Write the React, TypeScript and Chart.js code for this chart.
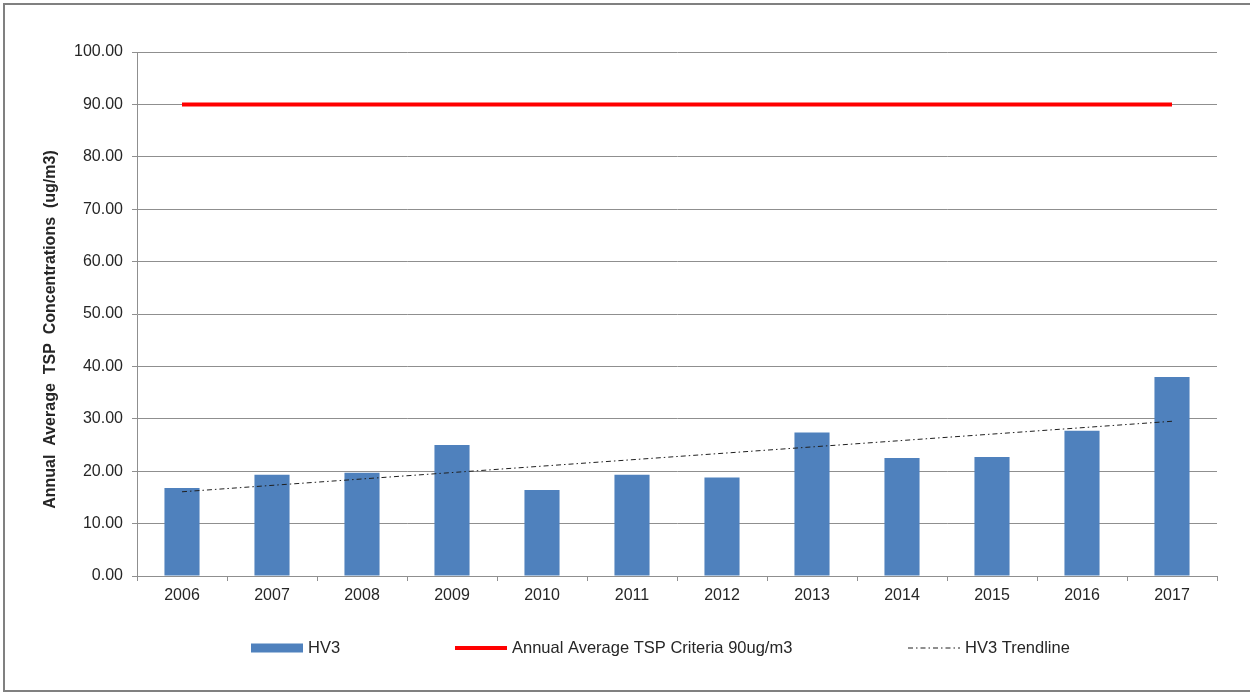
import React, { useEffect, useRef } from "react";
import { Chart, registerables } from "chart.js";

Chart.register(...registerables);

// Monitoring years and annual average TSP at HV3 (ug/m3)
const years = ["2006", "2007", "2008", "2009", "2010", "2011", "2012", "2013", "2014", "2015", "2016", "2017"];
const hv3Values = [16.8, 19.3, 19.7, 25.0, 16.4, 19.3, 18.8, 27.4, 22.5, 22.7, 27.7, 38.0];
const criteriaValue = 90;
const yMin = 0;
const yMax = 100;
const yStep = 10;

const seriesLabels = {
  bars: "HV3",
  criteria: `Annual Average TSP Criteria ${criteriaValue}ug/m3`,
  trend: "HV3 Trendline",
};
// Wide word gaps, and trailing blanks so the rotated title sits a little lower
const yTitle = "Annual  Average  TSP  Concentrations  (ug/m3)       ";

// Ordinary least-squares trend over the yearly HV3 values
function linearTrend(values: number[]): number[] {
  const n = values.length;
  const xs = values.map((_, i) => i);
  const mx = xs.reduce((a, b) => a + b, 0) / n;
  const my = values.reduce((a, b) => a + b, 0) / n;
  let sxy = 0;
  let sxx = 0;
  xs.forEach((x, i) => {
    sxy += (x - mx) * (values[i] - my);
    sxx += (x - mx) * (x - mx);
  });
  const slope = sxy / sxx;
  const intercept = my - slope * mx;
  return xs.map((x) => intercept + slope * x);
}

const FONT_FAMILY = "'Liberation Sans', Arial, Helvetica, sans-serif";
const TEXT_COLOR = "#262626";
const GRID_COLOR = "#8f8f8f";
const BAR_COLOR = "#4f81bd";
const CRITERIA_COLOR = "#ff0000";
const TREND_COLOR = "#1f1f1f";
const TREND_DASH = [5, 3, 1.5, 3];

// Horizontal starts of the legend entries, measured from the plot's left edge
const LEGEND_STARTS = [114, 318, 771];
const LEGEND_SWATCH = 52;
const LEGEND_GAP = 5;

const bottomLegend = {
  id: "bottomLegend",
  afterDraw(chart: any) {
    const { ctx, chartArea } = chart;
    const y = chartArea.bottom + 72;
    ctx.save();
    ctx.font = `16.5px ${FONT_FAMILY}`;
    ctx.textBaseline = "middle";
    ctx.textAlign = "left";
    chart.data.datasets.forEach((ds: any, i: number) => {
      const x = chartArea.left + LEGEND_STARTS[i];
      if (ds.type === "bar") {
        ctx.fillStyle = ds.backgroundColor;
        ctx.fillRect(x, y - 4.5, LEGEND_SWATCH, 9);
      } else {
        ctx.save();
        ctx.strokeStyle = ds.borderColor;
        ctx.lineWidth = ds.borderWidth;
        ctx.setLineDash(ds.borderDash || []);
        ctx.beginPath();
        ctx.moveTo(x, y);
        ctx.lineTo(x + LEGEND_SWATCH, y);
        ctx.stroke();
        ctx.restore();
      }
      ctx.fillStyle = TEXT_COLOR;
      ctx.fillText(ds.label, x + LEGEND_SWATCH + LEGEND_GAP, y);
    });
    ctx.restore();
  },
};

export default function App() {
  const canvasRef = useRef<HTMLCanvasElement | null>(null);

  useEffect(() => {
    document.body.style.margin = "0";
    const canvas = canvasRef.current;
    if (!canvas) return;

    const trend = linearTrend(hv3Values);

    const chart = new Chart(canvas, {
      type: "bar",
      data: {
        labels: years,
        datasets: [
          {
            type: "bar",
            label: seriesLabels.bars,
            data: hv3Values,
            backgroundColor: BAR_COLOR,
            borderWidth: 0,
            barPercentage: 0.39,
            categoryPercentage: 1,
            order: 3,
          },
          {
            type: "line",
            label: seriesLabels.criteria,
            data: years.map(() => criteriaValue),
            borderColor: CRITERIA_COLOR,
            backgroundColor: CRITERIA_COLOR,
            borderWidth: 4,
            pointRadius: 0,
            fill: false,
            order: 2,
          },
          {
            type: "line",
            label: seriesLabels.trend,
            data: trend,
            borderColor: TREND_COLOR,
            backgroundColor: TREND_COLOR,
            borderWidth: 1,
            borderDash: TREND_DASH,
            pointRadius: 0,
            fill: false,
            order: 1,
          },
        ] as any,
      },
      options: {
        responsive: false,
        animation: false,
        layout: { padding: { left: 0, right: 33, top: 52, bottom: 77 } },
        plugins: {
          legend: { display: false },
          tooltip: { enabled: false },
          title: { display: false },
        },
        scales: {
          x: {
            grid: {
              display: true,
              drawOnChartArea: false,
              drawTicks: true,
              tickLength: 5,
              color: GRID_COLOR,
              offset: true,
            },
            border: { display: true, color: GRID_COLOR, width: 1 },
            ticks: {
              color: TEXT_COLOR,
              font: { family: FONT_FAMILY, size: 16 },
              padding: 5,
              maxRotation: 0,
              autoSkip: false,
            },
            afterFit: (scale: any) => {
              scale.height = 40;
            },
          },
          y: {
            min: yMin,
            max: yMax,
            ticks: {
              stepSize: yStep,
              color: TEXT_COLOR,
              font: { family: FONT_FAMILY, size: 16 },
              padding: 9,
              callback: (v: any) => Number(v).toFixed(2),
            },
            grid: {
              color: GRID_COLOR,
              tickLength: 5,
              drawTicks: true,
            },
            border: { display: true, color: GRID_COLOR, width: 1 },
            title: {
              display: true,
              text: yTitle,
              color: TEXT_COLOR,
              font: { family: FONT_FAMILY, size: 16, weight: "bold" },
              padding: { top: 41, bottom: 0 },
            },
            afterFit: (scale: any) => {
              scale.width = 137;
            },
          },
        },
      },
      plugins: [bottomLegend],
    });

    return () => {
      chart.destroy();
    };
  }, []);

  return (
    <div style={{ position: "relative", width: 1250, height: 693, overflow: "hidden", background: "#fff" }}>
      <div
        style={{
          position: "absolute",
          left: 3,
          top: 3,
          width: 1260,
          height: 689,
          boxSizing: "border-box",
          borderTop: "2px solid #808080",
          borderLeft: "2px solid #808080",
          borderBottom: "2px solid #808080",
          pointerEvents: "none",
        }}
      />
      <canvas ref={canvasRef} width={1250} height={693} style={{ position: "absolute", left: 0, top: 0, display: "block" }} />
    </div>
  );
}
